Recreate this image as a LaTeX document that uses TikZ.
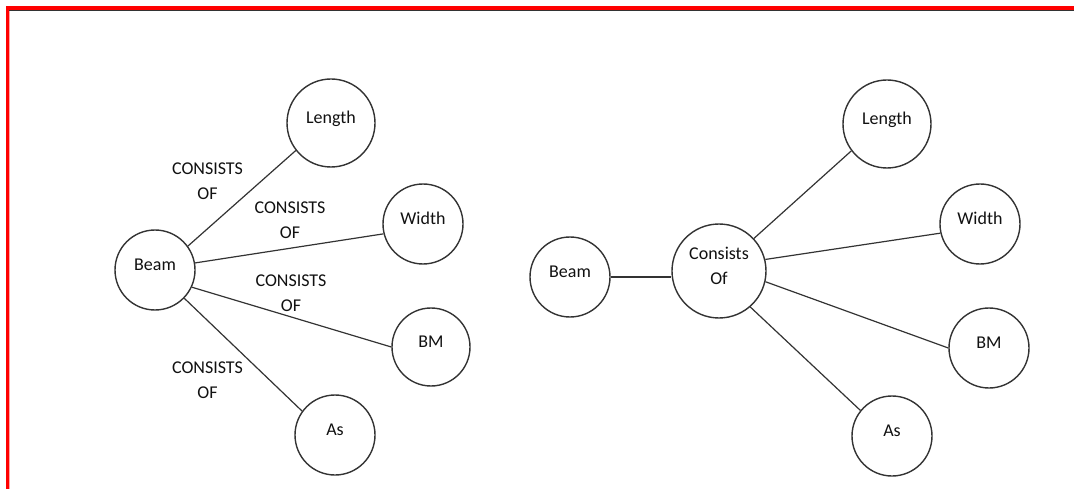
\documentclass[tikz,border=0pt]{standalone}
\usepackage{fontspec}
\setmainfont{Carlito}
\definecolor{linecol}{HTML}{333333}
\definecolor{textcol}{HTML}{111111}
\begin{document}
\begin{tikzpicture}[x=1pt,y=-1pt,
  ent/.style={circle, draw=linecol, line width=1.4pt, minimum size=#1, inner sep=0pt,
    font=\fontsize{18}{25}\selectfont, text=textcol, text height=10pt, text depth=8.4pt},
  ent/.default=80pt,
  conn/.style={draw=linecol, line width=1.2pt},
  rel/.style={font=\fontsize{18}{25}\selectfont, text=textcol, align=center, inner sep=0pt}]
\useasboundingbox (0,0) rectangle (1074,489);
\fill[white] (0,0) rectangle (1074,489);
% frame
\fill[red] (6,6) rectangle (1074,10);
\fill[red] (6,6) rectangle (9,489);
\fill[black!80] (9,10) rectangle (1074,11);
\fill[red!35] (9,11) rectangle (10,489);
% left diagram
\node[ent] (lbeam) at (155,270) {Beam};
\node[ent=88pt] (llen) at (331,123) {Length};
\node[ent] (lwid) at (423,224) {Width};
\node[ent=78pt] (lbm) at (431,347) {BM};
\node[ent] (las) at (335,435) {As};
\draw[conn] (lbeam.36.6) -- (llen.-142.6);
\draw[conn] (lbeam.10.8) -- (lwid.-166);
\draw[conn] (lbeam.-25.4) -- (lbm.180);
\draw[conn] (lbeam.-44) -- (las.144.3);
\node[rel] (r1) at (207.5,181.5) {CONSISTS\\OF};
\node[rel] (r2) at (290,220) {CONSISTS\\OF};
\node[rel] (r3) at (291,293) {CONSISTS\\OF};
\node[rel] (r4) at (207.5,380) {CONSISTS\\OF};
% right diagram
\node[ent] (rbeam) at (570,277) {Beam};
\node[ent=94pt, label={[font=\fontsize{18}{25}\selectfont, text=textcol, align=center, inner sep=0pt, yshift=5pt]center:Consists\\Of}] (rcof) at (719,271) {};
\node[ent=88pt] (rlen) at (887,124) {Length};
\node[ent] (rwid) at (980,224) {Width};
\node[ent] (rbm) at (989,348) {BM};
\node[ent] (ras) at (892,436) {As};
\draw[conn] (rbeam.east) -- (rbeam.east -| rcof.west);
\draw[conn] (rcof.43) -- (rlen.-143.4);
\draw[conn] (rcof.14) -- (rwid.-167);
\draw[conn] (rcof.-13) -- (rbm.180);
\draw[conn] (rcof.-49) -- (ras.141);
\end{tikzpicture}
\end{document}
